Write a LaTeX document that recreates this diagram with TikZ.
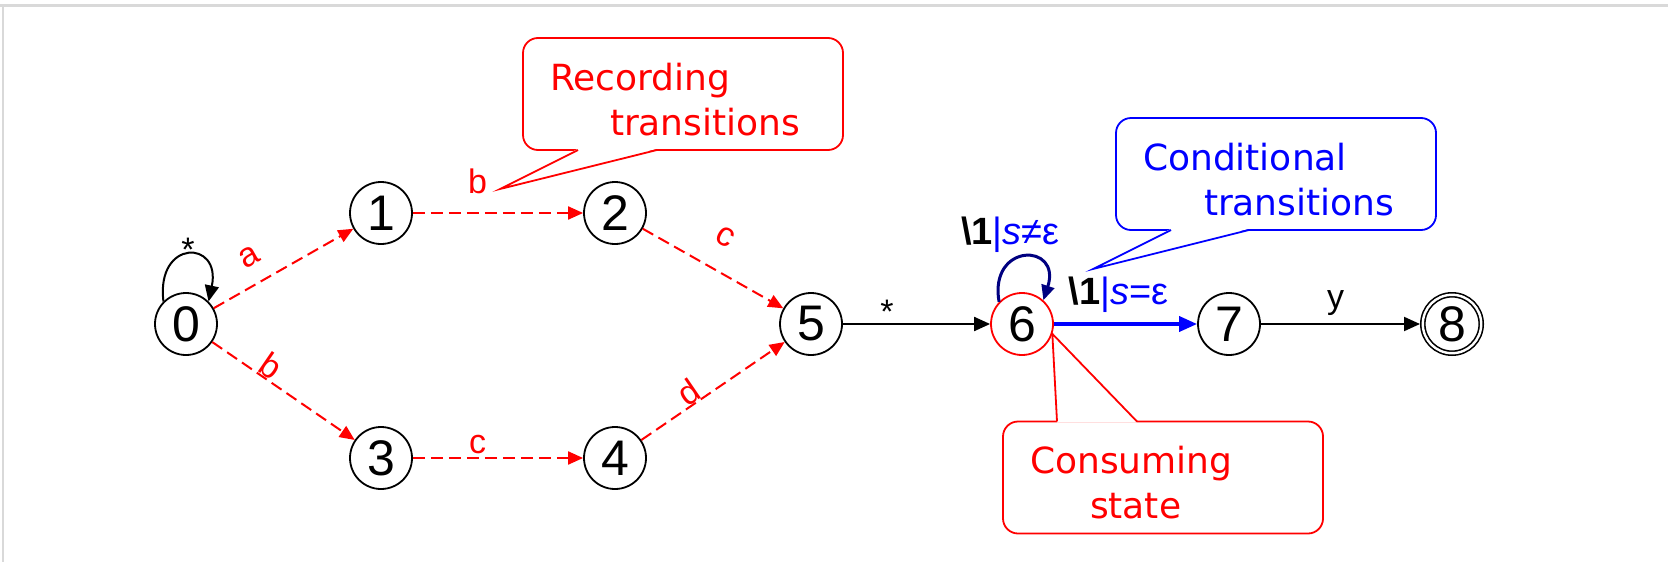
\documentclass[tikz,border=0pt]{standalone}
\usepackage{fontspec}
\setmainfont{Liberation Sans}
\newfontfamily\notefont{DejaVu Sans}
\usetikzlibrary{arrows.meta,positioning,calc}
\definecolor{navy}{RGB}{0,0,128}
\definecolor{framegray}{RGB}{217,217,217}

\begin{document}
\begin{tikzpicture}[
on grid,
state/.style={circle, draw, line width=0.9pt, minimum size=31pt, inner sep=0pt, font=\fontsize{25}{25}\selectfont},
final/.style={state, double, double distance=1.2pt, line width=0.8pt, minimum size=29.2pt, outer sep=1.4pt},
record/.style={-{Triangle[length=7.5pt,width=6.5pt]}, red, dash pattern=on 6pt off 3pt, line width=1pt},
arrow/.style={-{Triangle[length=8pt,width=7pt]}, line width=1pt},
lbl/.style={font=\fontsize{17}{17}\selectfont, inner sep=0pt},
cnd/.style={font=\fontsize{19}{19}\selectfont, inner sep=0pt, text=black},
note/.style={rectangle, draw, rounded corners=7.5pt, line width=0.9pt, outer sep=0pt, text width=133pt, inner xsep=13.5pt, inner ysep=0pt, text height=26pt, text depth=30pt, align=left, font=\notefont\fontsize{18}{22.5}\selectfont},
tail/.style={line width=0.9pt, line join=miter}
]
\useasboundingbox (0,0) rectangle (834pt,-281pt);
\draw[framegray, line width=1.65pt] (0,-2.85pt) -- (834pt,-2.85pt);
\draw[framegray, line width=0.8pt] (1.4pt,-2.85pt) -- (1.4pt,-281pt);

\node[state] (s0) at (93pt,-162pt) {0};
\node[state, above right=55.5pt and 97.5pt of s0] (s1) {1};
\node[state, right=117pt of s1] (s2) {2};
\node[state, below right=67pt and 97.5pt of s0] (s3) {3};
\node[state, right=117pt of s3] (s4) {4};
\node[state, right=312.5pt of s0] (s5) {5};
\node[state, draw=red, right=105.5pt of s5] (s6) {6};
\node[state, right=103.5pt of s6] (s7) {7};
\node[final, right=111.5pt of s7] (s8) {8};

\draw[arrow] (s0.135) to[out=97, in=78, looseness=3.6] node[lbl, above, yshift=-4pt] (lstar) {*} (s0.45);
\draw[record] (s0) -- node[lbl, sloped, above, inner ysep=8.5pt, pos=.35] (la) {a} (s1);
\draw[record] (s0) -- node[lbl, sloped, above, pos=.36] (lb) {b} (s3);
\draw[record] (s1) -- node[lbl, above, inner ysep=9pt, pos=.38] (lb2) {b} (s2);
\draw[record] (s3) -- node[lbl, above, inner ysep=1.5pt, pos=.38] (lc) {c} (s4);
\draw[record] (s2) -- node[lbl, sloped, above, inner ysep=11.5pt, pos=.47] (lc2) {c} (s5);
\draw[record] (s4) -- node[lbl, sloped, above, inner ysep=0pt, pos=.38] (ld) {d} (s5);
\draw[arrow] (s5) -- node[lbl, above, pos=.3] (lany) {*} (s6);
\draw[-{Triangle[length=7.5pt,width=6.5pt]}, navy, line width=1.5pt] (s6.136) to[out=100, in=72, looseness=3.5]
  node[cnd, above, inner ysep=1.5pt, xshift=-7pt] (lself) {{\bfseries\textbackslash1}\textcolor{blue}{|\textit{s}≠ε}} (s6.48);
\draw[-{Triangle[length=9pt,width=7.5pt]}, blue, line width=1.8pt] (s6) --
  node[cnd, above, inner ysep=5pt, pos=.45] (lempty) {{\bfseries\textbackslash1}\textcolor{blue}{|\textit{s}=ε}} (s7);
\draw[arrow] (s7) -- node[lbl, above, inner ysep=3.5pt, pos=.47] (ly) {y} (s8);

\node[note, draw=red, text=red] (recnote) at (341.5pt,-47pt) {Recording\\\hspace*{30pt}transitions};
\coordinate (rectip) at (250pt,-94.5pt);
\fill[white] ($(recnote.south west)+(27.5pt,0.6pt)$) -- (rectip) -- ($(recnote.south west)+(67pt,0.6pt)$) -- cycle;
\draw[tail, red] ($(recnote.south west)+(27.5pt,0)$) -- (rectip) -- ($(recnote.south west)+(67pt,0)$);

\node[note, draw=blue, text=blue] (condnote) at (638pt,-87pt) {Conditional\\\hspace*{30.5pt}transitions};
\coordinate (condtip) at (546.5pt,-134.5pt);
\fill[white] ($(condnote.south west)+(27.5pt,0.6pt)$) -- (condtip) -- ($(condnote.south west)+(66.5pt,0.6pt)$) -- cycle;
\draw[tail, blue] ($(condnote.south west)+(27.5pt,0)$) -- (condtip) -- ($(condnote.south west)+(66.5pt,0)$);

\node[note, draw=red, text=red] (consnote) at (581.5pt,-238.75pt) {Consuming\\\hspace*{30pt}state};
\coordinate (constip) at (s6.-18);
\fill[white] ($(consnote.north west)+(27pt,-0.6pt)$) -- (constip) -- ($(consnote.north west)+(67pt,-0.6pt)$) -- cycle;
\draw[tail, red] ($(consnote.north west)+(27pt,0)$) -- (constip) -- ($(consnote.north west)+(67pt,0)$);
\end{tikzpicture}
\end{document}
